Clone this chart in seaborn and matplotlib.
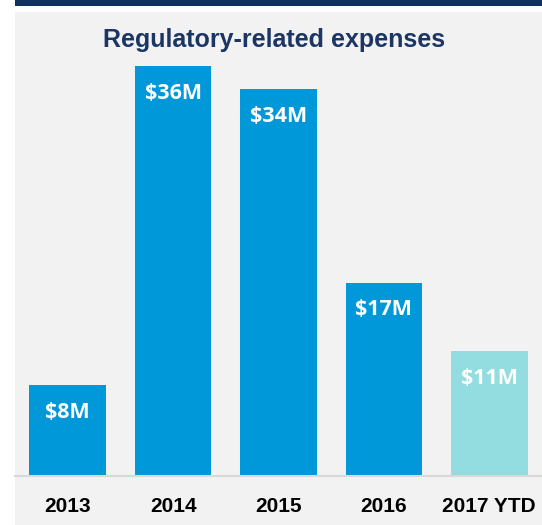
import matplotlib.pyplot as plt
import seaborn as sns
import pandas as pd
from matplotlib.patches import Rectangle

years = ['2013', '2014', '2015', '2016', '2017 YTD']
expenses = [8, 36, 34, 17, 11]
labels = ['$8M', '$36M', '$34M', '$17M', '$11M']
bar_colors = ['#0098d9', '#0098d9', '#0098d9', '#0098d9', '#93dcdf']

df = pd.DataFrame({'year': years, 'expense': expenses})

sns.set_style('white')
plt.rcParams['font.family'] = ['Liberation Sans', 'DejaVu Sans']

W, H = 542, 525
fig = plt.figure(figsize=(W / 100, H / 100), dpi=100)
fig.patch.set_facecolor('white')

# grey panel behind the chart + navy strip on top
fig.patches.append(Rectangle((15 / W, 0), 1, 1 - 12 / H, transform=fig.transFigure,
                             facecolor='#f2f2f2', edgecolor='none', zorder=-2))
fig.patches.append(Rectangle((15 / W, 1 - 6 / H), 1, 6 / H, transform=fig.transFigure,
                             facecolor='#10305f', edgecolor='none', zorder=-2))

ax = fig.add_axes([15 / W, 49 / H, 1 - 15 / W, (476 - 12) / H])
ax.set_facecolor('none')

sns.barplot(data=df, x='year', y='expense', hue='year', palette=bar_colors,
            dodge=False, legend=False, width=0.725, saturation=1, linewidth=0, ax=ax)

ax.set_xlim(-0.5, 4.5)
ax.set_ylim(0, 464 / 11.38)

for i, (v, lab) in enumerate(zip(expenses, labels)):
    ax.text(i, v - 2.4, lab, ha='center', va='center', color='white',
            fontsize=15.5, fontweight='bold', family=['Open Sans', 'DejaVu Sans'])

ax.text(0.492, (464 - 28) / 464, 'Regulatory-related expenses', transform=ax.transAxes,
        ha='center', va='center', fontsize=18, fontweight='bold', color='#1b3564')

for s in ['top', 'right', 'left']:
    ax.spines[s].set_visible(False)
ax.spines['bottom'].set_color('#d9d9d9')
ax.spines['bottom'].set_linewidth(1.5)

ax.set_yticks([])
ax.set_xlabel('')
ax.set_ylabel('')
ax.tick_params(axis='x', which='major', length=0, pad=15, labelsize=15, labelcolor='black')
for t in ax.get_xticklabels():
    t.set_fontweight('bold')
ax.set_xticks([-0.5, 0.5, 1.5, 2.5, 3.5], minor=True)
ax.tick_params(axis='x', which='minor', length=6, width=1.5, color='#d9d9d9', direction='out')

fig.savefig('out.png', dpi=100)
